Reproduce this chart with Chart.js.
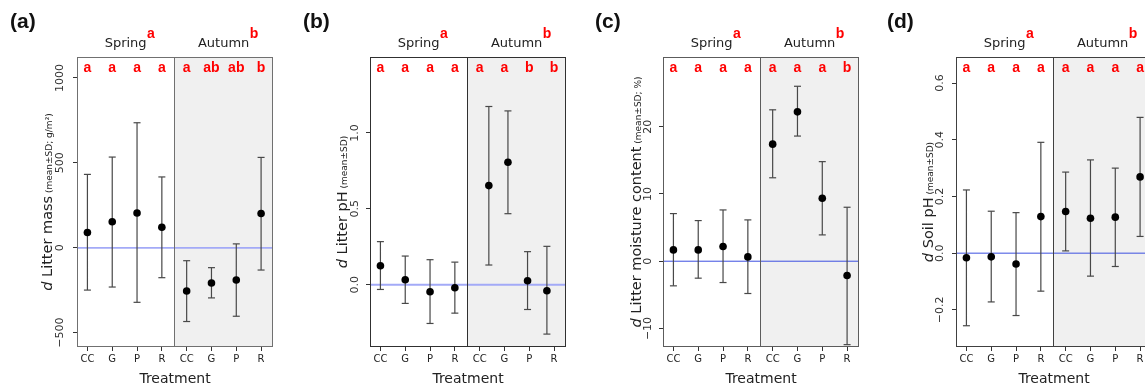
<!DOCTYPE html>
<html>
<head>
<meta charset="utf-8">
<script src="https://cdn.jsdelivr.net/npm/chart.js@4.4.1/dist/chart.umd.min.js"></script>
<style>
  html, body { margin: 0; padding: 0; background: #fff; overflow: hidden; }
  #wrap { position: relative; width: 1145px; height: 385px; overflow: hidden; }
  canvas { position: absolute; top: 0; }
</style>
</head>
<body>
<div id="wrap">
  <canvas id="pa" width="290" height="385" style="left:0px"></canvas>
  <canvas id="pb" width="290" height="385" style="left:290px"></canvas>
  <canvas id="pc" width="290" height="385" style="left:580px"></canvas>
  <canvas id="pd" width="290" height="385" style="left:870px"></canvas>
</div>
<script>
//---------------------- data ----------------------
const treatments = ["CC", "G", "P", "R", "CC", "G", "P", "R"];
const seasons = ["Spring", "Autumn"];
const xPos = [1, 2, 3, 4, 5, 6, 7, 8];
const xPosPh = [1, 2, 3, 4, 5.37, 6.14, 6.93, 7.71];   // (b) autumn points sit off the ticks

// (a) d Litter mass
const massMean = [90, 153, 205, 121, -254, -207, -190, 202];
const massLow  = [-249, -231, -321, -176, -434, -295, -403, -131];
const massHigh = [432, 534, 736, 417, -76, -117, 23, 532];
const massLetters = ["a", "a", "a", "a", "a", "ab", "ab", "b"];
const massSeason = ["a", "b"];
const massTicks = [-500, 0, 500, 1000];
const massTickLabels = ["−500", "0", "500", "1000"];

// (b) d Litter pH
const phMean = [0.125, 0.033, -0.046, -0.020, 0.653, 0.807, 0.026, -0.040];
const phLow  = [-0.031, -0.123, -0.255, -0.187, 0.130, 0.468, -0.163, -0.325];
const phHigh = [0.284, 0.189, 0.165, 0.149, 1.174, 1.145, 0.218, 0.253];
const phLetters = ["a", "a", "a", "a", "a", "a", "b", "b"];
const phSeason = ["a", "b"];
const phTicks = [0, 0.5, 1.0];
const phTickLabels = ["0.0", "0.5", "1.0"];

// (c) d Litter moisture content
const moistMean = [1.68, 1.68, 2.18, 0.64, 17.4, 22.2, 9.36, -2.13];
const moistLow  = [-3.66, -2.52, -3.17, -4.80, 12.4, 18.6, 3.91, -12.4];
const moistHigh = [7.08, 6.04, 7.62, 6.14, 22.5, 26.0, 14.8, 8.02];
const moistLetters = ["a", "a", "a", "a", "a", "a", "a", "b"];
const moistSeason = ["a", "b"];
const moistTicks = [-10, 0, 10, 20];
const moistTickLabels = ["−10", "0", "10", "20"];

// (d) d Soil pH
const soilMean = [-0.016, -0.013, -0.038, 0.129, 0.147, 0.123, 0.127, 0.269];
const soilLow  = [-0.256, -0.172, -0.220, -0.134, 0.008, -0.081, -0.047, 0.059];
const soilHigh = [0.223, 0.148, 0.143, 0.391, 0.286, 0.329, 0.300, 0.479];
const soilLetters = ["a", "a", "a", "a", "a", "a", "a", "a"];
const soilSeason = ["a", "b"];
const soilTicks = [-0.2, 0, 0.2, 0.4, 0.6];
const soilTickLabels = ["−0.2", "0.0", "0.2", "0.4", "0.6"];

//---------------------- layout ----------------------
const W = 290, H = 385, TOP = 57, BOTTOM = 347, PLOT_W = 196;
const X_MIN = 0.58, X_MAX = 8.48, SPLIT = 4.5;
const SANS = '"DejaVu Sans"';
const ARIAL = '"Liberation Sans"';

function errorSegments(xs, lo, hi) {
  const pts = [];
  xs.forEach((x, i) => {
    pts.push({x: x, y: lo[i]}, {x: x, y: hi[i]}, {x: x, y: null});
  });
  return pts;
}

function decoPlugin(p) {
  return {
    id: 'deco',
    beforeDatasetsDraw(chart) {
      const {ctx, chartArea: a, scales: {x, y}} = chart;
      const xs = Math.round(x.getPixelForValue(SPLIT)) + 0.5;
      ctx.save();
      ctx.fillStyle = '#f0f0f0';
      ctx.fillRect(xs, a.top, a.right - xs, a.bottom - a.top);
      const y0 = y.getPixelForValue(0);
      ctx.strokeStyle = p.zeroColor;
      ctx.lineWidth = p.zeroWidth;
      ctx.beginPath(); ctx.moveTo(a.left, y0); ctx.lineTo(a.right, y0); ctx.stroke();
      ctx.strokeStyle = p.boxColor;
      ctx.lineWidth = 1;
      ctx.strokeRect(a.left + 0.5, a.top + 0.5, a.right - a.left - 1, a.bottom - a.top - 1);
      ctx.beginPath(); ctx.moveTo(xs, a.top); ctx.lineTo(xs, a.bottom); ctx.stroke();
      ctx.restore();
    },
    afterDraw(chart) {
      const {ctx, chartArea: a, scales: {x, y}} = chart;
      const xs = x.getPixelForValue(SPLIT);
      ctx.save();

      // panel label
      ctx.fillStyle = '#111';
      ctx.font = 'bold 21px ' + ARIAL;
      ctx.textAlign = 'left';
      ctx.textBaseline = 'alphabetic';
      ctx.fillText(p.tag, p.tagX, 28);

      // season headers with superscript letters
      const centers = [(a.left + xs) / 2, (xs + a.right) / 2];
      seasons.forEach((s, i) => {
        ctx.font = '13px ' + SANS;
        const w = ctx.measureText(s).width;
        ctx.fillStyle = '#222';
        ctx.fillText(s, centers[i] - w / 2, 46.5);
        ctx.font = 'bold 14px ' + ARIAL;
        ctx.fillStyle = '#ff0000';
        ctx.fillText(p.season[i], centers[i] + w / 2 + 0.5, 37.5);
      });

      // group letters
      ctx.font = 'bold 14px ' + ARIAL;
      ctx.fillStyle = '#ff0000';
      ctx.textAlign = 'center';
      p.letters.forEach((l, i) => {
        ctx.fillText(l, x.getPixelForValue(i + 1), 71.5);
      });

      // y tick labels (rotated, R style)
      ctx.font = '11px ' + SANS;
      ctx.fillStyle = '#333';
      ctx.textBaseline = 'middle';
      p.ticks.forEach((v, i) => {
        ctx.save();
        ctx.translate(p.tickX, y.getPixelForValue(v));
        ctx.rotate(-Math.PI / 2);
        ctx.fillText(p.tickLabels[i], 0, 0);
        ctx.restore();
      });

      // y axis title: italic d + name + small unit
      ctx.save();
      ctx.translate(p.titleX, (a.top + a.bottom) / 2);
      ctx.rotate(-Math.PI / 2);
      ctx.textAlign = 'left';
      ctx.textBaseline = 'alphabetic';
      ctx.fillStyle = '#222';
      const big = '14.5px ' + SANS, small = '9px ' + SANS;
      ctx.font = 'italic ' + big; const w1 = ctx.measureText('d').width;
      ctx.font = big; const w2 = ctx.measureText(' ' + p.title).width;
      ctx.font = small; const w3 = ctx.measureText(' ' + p.unit).width;
      let cx = -(w1 + w2 + w3) / 2;
      ctx.font = 'italic ' + big; ctx.fillText('d', cx, 0); cx += w1;
      ctx.font = big; ctx.fillText(' ' + p.title, cx, 0); cx += w2;
      ctx.font = small; ctx.fillText(' ' + p.unit, cx, 0);
      ctx.restore();

      // x axis title
      ctx.font = '14px ' + SANS;
      ctx.fillStyle = '#222';
      ctx.textAlign = 'center';
      ctx.textBaseline = 'alphabetic';
      ctx.fillText('Treatment', (a.left + a.right) / 2, 383);
      ctx.restore();
    }
  };
}

function makePanel(id, p) {
  return new Chart(document.getElementById(id), {
    type: 'scatter',
    data: {
      datasets: [
        {
          label: 'mean',
          data: p.xs.map((x, i) => ({x: x, y: p.mean[i]})),
          pointRadius: 3.8,
          pointBackgroundColor: '#000',
          pointBorderColor: '#000',
          pointBorderWidth: 0,
          order: 0
        },
        {
          type: 'line',
          label: 'sd',
          data: errorSegments(p.xs, p.low, p.high),
          showLine: true,
          spanGaps: false,
          borderColor: '#484848',
          borderWidth: 1.2,
          pointStyle: 'line',
          pointRadius: 3.5,
          pointBorderColor: '#484848',
          pointBorderWidth: 1.2,
          order: 1
        }
      ]
    },
    options: {
      responsive: false,
      animation: false,
      events: [],
      layout: {padding: {top: TOP, left: 0, bottom: 0, right: W - p.left - PLOT_W}},
      plugins: {legend: {display: false}, tooltip: {enabled: false}},
      scales: {
        x: {
          type: 'linear',
          min: X_MIN,
          max: X_MAX,
          afterBuildTicks: s => { s.ticks = treatments.map((t, i) => ({value: i + 1})); },
          afterFit: s => { s.height = H - BOTTOM; },
          grid: {drawOnChartArea: false, drawTicks: true, tickLength: 4, color: '#333'},
          border: {display: false},
          ticks: {
            autoSkip: false, maxRotation: 0, padding: 2, color: '#222',
            font: {family: 'DejaVu Sans', size: 10},
            callback: (v, i) => treatments[i]
          }
        },
        y: {
          type: 'linear',
          min: p.min,
          max: p.max,
          afterBuildTicks: s => { s.ticks = p.ticks.map(v => ({value: v})); },
          afterFit: s => { s.width = p.left; },
          grid: {drawOnChartArea: false, drawTicks: true, tickLength: 4, color: '#333'},
          border: {display: false},
          ticks: {display: false}
        }
      }
    },
    plugins: [decoPlugin(p)]
  });
}

makePanel('pa', {
  tag: '(a)', tagX: 10, left: 77, tickX: 60.5, titleX: 52,
  title: 'Litter mass', unit: '(mean±SD; g/m²)',
  xs: xPos, mean: massMean, low: massLow, high: massHigh,
  letters: massLetters, season: massSeason,
  min: -584, max: 1123, ticks: massTicks, tickLabels: massTickLabels,
  zeroColor: '#a3aaf7', zeroWidth: 1.8, boxColor: '#707070'
});

makePanel('pb', {
  tag: '(b)', tagX: 13, left: 80, tickX: 65, titleX: 57,
  title: 'Litter pH', unit: '(mean±SD)',
  xs: xPosPh, mean: phMean, low: phLow, high: phHigh,
  letters: phLetters, season: phSeason,
  min: -0.41, max: 1.50, ticks: phTicks, tickLabels: phTickLabels,
  zeroColor: '#a3aaf7', zeroWidth: 1.8, boxColor: '#303030'
});

makePanel('pc', {
  tag: '(c)', tagX: 15, left: 83, tickX: 68, titleX: 60.5,
  title: 'Litter moisture content', unit: '(mean±SD; %)',
  xs: xPos, mean: moistMean, low: moistLow, high: moistHigh,
  letters: moistLetters, season: moistSeason,
  min: -12.75, max: 30.35, ticks: moistTicks, tickLabels: moistTickLabels,
  zeroColor: '#3c4fe0', zeroWidth: 1, boxColor: '#5c5c5c'
});

makePanel('pd', {
  tag: '(d)', tagX: 17, left: 86, tickX: 70.5, titleX: 63,
  title: 'Soil pH', unit: '(mean±SD)',
  xs: xPos, mean: soilMean, low: soilLow, high: soilHigh,
  letters: soilLetters, season: soilSeason,
  min: -0.331, max: 0.692, ticks: soilTicks, tickLabels: soilTickLabels,
  zeroColor: '#3c4fe0', zeroWidth: 1, boxColor: '#404040'
});
</script>
</body>
</html>
